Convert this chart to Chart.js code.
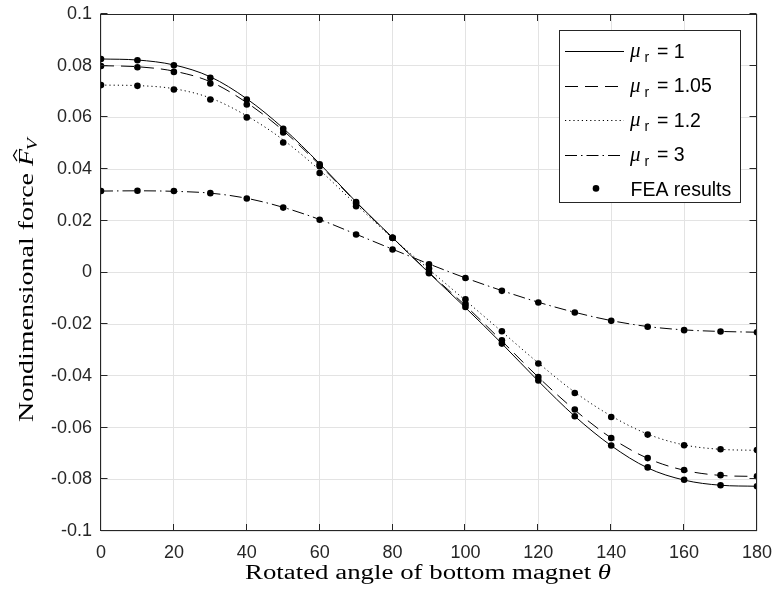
<!DOCTYPE html>
<html>
<head>
<meta charset="utf-8">
<script src="https://cdn.jsdelivr.net/npm/chart.js@4.4.1/dist/chart.umd.min.js"></script>
<style>
  html, body { margin: 0; padding: 0; background: #fff; }
  canvas { display: block; }
</style>
</head>
<body>
<canvas id="chart" width="774" height="594"></canvas>
<script>
// rotated angle (degrees)
const angles = [0, 10, 20, 30, 40, 50, 60, 70, 80, 90, 100, 110, 120, 130, 140, 150, 160, 170, 180];

// analytical curves
const curveMu1 = [0.0826, 0.0822, 0.0803, 0.0757, 0.0672, 0.0558, 0.0421, 0.0273, 0.0135, -0.0002, -0.0136, -0.0275, -0.0420, -0.0556, -0.0670, -0.0756, -0.0803, -0.0823, -0.0827];
const curveMu105 = [0.0800, 0.0796, 0.0779, 0.0738, 0.0657, 0.0549, 0.0416, 0.0272, 0.0134, 0.0000, -0.0128, -0.0265, -0.0405, -0.0532, -0.0640, -0.0719, -0.0765, -0.0785, -0.0789];
const curveMu12 = [0.0725, 0.0723, 0.0711, 0.0675, 0.0606, 0.0513, 0.0396, 0.0263, 0.0133, 0.0012, -0.0108, -0.0229, -0.0350, -0.0463, -0.0555, -0.0625, -0.0667, -0.0684, -0.0688];
const curveMu3 = [0.0315, 0.0316, 0.0314, 0.0307, 0.0287, 0.0252, 0.0205, 0.0148, 0.0090, 0.0033, -0.0021, -0.0070, -0.0115, -0.0154, -0.0186, -0.0209, -0.0222, -0.0228, -0.0231];

// FEA results
const feaMu1 = [0.0826, 0.0821, 0.0802, 0.0753, 0.0669, 0.0556, 0.0419, 0.0273, 0.0134, -0.0003, -0.0133, -0.0275, -0.0418, -0.0556, -0.0669, -0.0754, -0.0802, -0.0823, -0.0827];
const feaMu105 = [0.0799, 0.0794, 0.0776, 0.0731, 0.0650, 0.0542, 0.0411, 0.0267, 0.0134, 0.0000, -0.0123, -0.0262, -0.0404, -0.0530, -0.0640, -0.0718, -0.0764, -0.0784, -0.0788];
const feaMu12 = [0.0725, 0.0722, 0.0708, 0.0669, 0.0600, 0.0503, 0.0385, 0.0256, 0.0134, 0.0015, -0.0104, -0.0227, -0.0352, -0.0466, -0.0559, -0.0627, -0.0668, -0.0684, -0.0687];
const feaMu3 = [0.0315, 0.0316, 0.0315, 0.0307, 0.0286, 0.0251, 0.0204, 0.0147, 0.0089, 0.0032, -0.0021, -0.0071, -0.0116, -0.0155, -0.0187, -0.0210, -0.0223, -0.0228, -0.0231];

const muValues = ['1', '1.05', '1.2', '3'];
const feaLabel = 'FEA results';

const xTicks = [0, 20, 40, 60, 80, 100, 120, 140, 160, 180];
const xTickLabels = ['0', '20', '40', '60', '80', '100', '120', '140', '160', '180'];
const yTicks = [-0.1, -0.08, -0.06, -0.04, -0.02, 0, 0.02, 0.04, 0.06, 0.08, 0.1];
const yTickLabels = ['-0.1', '-0.08', '-0.06', '-0.04', '-0.02', '0', '0.02', '0.04', '0.06', '0.08', '0.1'];

const xTitle = 'Rotated angle of bottom magnet ';
const yTitle = 'Nondimensional force ';

const INK = '#262626';
const SANS = '"Liberation Sans", Arial, Helvetica, sans-serif';
const SERIF = '"Liberation Serif", "Times New Roman", serif';

function pts(ys) {
  return angles.map((a, i) => ({ x: a, y: ys[i] }));
}

function curve(ys, dash) {
  return {
    data: pts(ys),
    borderColor: '#000',
    borderWidth: 1,
    borderDash: dash,
    pointRadius: 0,
    fill: false,
    cubicInterpolationMode: 'monotone'
  };
}

const feaPoints = [].concat(pts(feaMu1), pts(feaMu105), pts(feaMu12), pts(feaMu3));

const datasets = [
  curve(curveMu1, []),
  curve(curveMu105, [13, 7]),
  curve(curveMu12, [1.2, 3]),
  curve(curveMu3, [12, 4, 1.5, 4]),
  {
    data: feaPoints,
    showLine: false,
    pointRadius: 3.3,
    pointBackgroundColor: '#000',
    pointBorderWidth: 0,
    order: -1
  }
];

// no automatic label overflow padding; the layout padding sets the plot box
function noOverflow(s) {
  s.paddingLeft = 0; s.paddingRight = 0; s.paddingTop = 0; s.paddingBottom = 0;
}

// frame, inward ticks, legend and axis titles
const decorations = {
  id: 'decorations',
  afterDatasetsDraw(chart) {
    const ctx = chart.ctx;
    const a = chart.chartArea;
    const xs = chart.scales.x, ys = chart.scales.y;
    ctx.save();
    ctx.strokeStyle = INK;
    ctx.lineWidth = 1;
    const L = Math.round(a.left) - 0.5, R = Math.round(a.right) - 0.5;
    const T = Math.round(a.top) + 0.5, B = Math.round(a.bottom) - 0.5;
    ctx.beginPath();
    xTicks.forEach(v => {
      const p = Math.round(xs.getPixelForValue(v)) - 0.5;
      ctx.moveTo(p, B); ctx.lineTo(p, B - 6.5);
      ctx.moveTo(p, T); ctx.lineTo(p, T + 6.5);
    });
    yTicks.forEach(v => {
      const p = Math.round(ys.getPixelForValue(v)) - 0.5;
      ctx.moveTo(L, p); ctx.lineTo(L + 7, p);
      ctx.moveTo(R, p); ctx.lineTo(R - 7, p);
    });
    ctx.stroke();
    ctx.strokeRect(L, T, R - L, B - T);
    ctx.restore();
  },
  afterDraw(chart) {
    const ctx = chart.ctx;
    drawLegend(ctx, chart);
    drawXTitle(ctx);
    drawYTitle(ctx);
  }
};

function drawLegend(ctx, chart) {
  ctx.save();
  ctx.fillStyle = '#fff';
  ctx.fillRect(559, 30, 182, 173);
  ctx.strokeStyle = INK;
  ctx.lineWidth = 1;
  ctx.strokeRect(559.5, 30.5, 181, 172);
  const rowY = [51, 85.6, 120.2, 154.8, 189.4];
  muValues.forEach((mu, i) => {
    const y = rowY[i];
    const ds = chart.data.datasets[i];
    ctx.strokeStyle = '#000';
    ctx.lineWidth = 1;
    ctx.setLineDash(ds.borderDash);
    ctx.beginPath();
    ctx.moveTo(565, Math.round(y) + 0.5);
    ctx.lineTo(624, Math.round(y) + 0.5);
    ctx.stroke();
    ctx.setLineDash([]);
    ctx.fillStyle = '#000';
    ctx.textBaseline = 'alphabetic';
    ctx.textAlign = 'left';
    ctx.font = 'italic 21px ' + SERIF;
    ctx.fillText('\u03bc', 630, y + 6);
    ctx.font = '14px ' + SANS;
    ctx.fillText('r', 644.5, y + 11);
    ctx.font = '19.5px ' + SANS;
    ctx.fillText('= ' + mu, 657, y + 6.5);
  });
  const y5 = rowY[4];
  ctx.fillStyle = '#000';
  ctx.beginPath();
  ctx.arc(596, y5 - 1, 3.3, 0, Math.PI * 2);
  ctx.fill();
  ctx.font = '19.5px ' + SANS;
  ctx.fillText(feaLabel, 630.5, y5 + 6.5);
  ctx.restore();
}

function drawXTitle(ctx) {
  ctx.save();
  ctx.fillStyle = '#000';
  ctx.textBaseline = 'alphabetic';
  ctx.textAlign = 'left';
  const fN = '20px ' + SERIF, fI = 'italic 20px ' + SERIF;
  ctx.font = fN; const w1 = ctx.measureText(xTitle).width;
  ctx.font = fI; const w2 = ctx.measureText('\u03b8').width;
  const target = 366;
  const sx = target / (w1 + w2);
  ctx.translate(428 - target / 2, 579);
  ctx.scale(sx, 1);
  ctx.font = fN; ctx.fillText(xTitle, 0, 0);
  ctx.font = fI; ctx.fillText('\u03b8', w1, 0);
  ctx.restore();
}

function drawYTitle(ctx) {
  ctx.save();
  ctx.fillStyle = '#000';
  ctx.strokeStyle = '#000';
  ctx.textBaseline = 'alphabetic';
  ctx.textAlign = 'left';
  const fN = '20px ' + SERIF, fI = 'italic 20px ' + SERIF, fS = 'italic 14px ' + SERIF;
  ctx.font = fN; const w1 = ctx.measureText(yTitle).width;
  ctx.font = fI; const wF = ctx.measureText('F').width;
  ctx.font = fS; const wV = ctx.measureText('V').width;
  const natural = w1 + wF + wV;
  const target = 285;
  const sx = target / natural;
  ctx.translate(33, 279.5);
  ctx.rotate(-Math.PI / 2);
  ctx.scale(sx, 1);
  const x0 = -natural / 2;
  ctx.font = fN; ctx.fillText(yTitle, x0, 0);
  ctx.font = fI; ctx.fillText('F', x0 + w1, 0);
  ctx.font = fS; ctx.fillText('V', x0 + w1 + wF - 1, 4);
  const cx = x0 + w1 + wF * 0.62;
  ctx.lineWidth = 1.1;
  ctx.beginPath();
  ctx.moveTo(cx - 4, -16);
  ctx.lineTo(cx, -19.5);
  ctx.lineTo(cx + 4, -16);
  ctx.stroke();
  ctx.restore();
}

new Chart(document.getElementById('chart').getContext('2d'), {
  type: 'line',
  data: { datasets: datasets },
  options: {
    responsive: false,
    animation: false,
    devicePixelRatio: 1,
    layout: { padding: { top: 14, right: 17, left: 0, bottom: 0 } },
    plugins: {
      legend: { display: false },
      tooltip: { enabled: false }
    },
    scales: {
      x: {
        type: 'linear',
        min: 0,
        max: 180,
        afterFit: s => { s.height = 63; noOverflow(s); },
        afterBuildTicks: s => { s.ticks = xTicks.map(v => ({ value: v })); },
        ticks: {
          autoSkip: false,
          maxRotation: 0,
          padding: 11,
          color: INK,
          font: { family: SANS, size: 18 },
          callback: (v, i) => xTickLabels[i]
        },
        grid: { color: '#e3e3e3', lineWidth: 1, drawTicks: false },
        border: { display: false }
      },
      y: {
        type: 'linear',
        min: -0.1,
        max: 0.1,
        afterFit: s => { s.width = 101; noOverflow(s); },
        afterBuildTicks: s => { s.ticks = yTicks.map(v => ({ value: v })); },
        ticks: {
          autoSkip: false,
          padding: 9,
          color: INK,
          font: { family: SANS, size: 18 },
          callback: (v, i) => yTickLabels[i]
        },
        grid: { color: '#e3e3e3', lineWidth: 1, drawTicks: false },
        border: { display: false }
      }
    }
  },
  plugins: [decorations]
});
</script>
</body>
</html>
